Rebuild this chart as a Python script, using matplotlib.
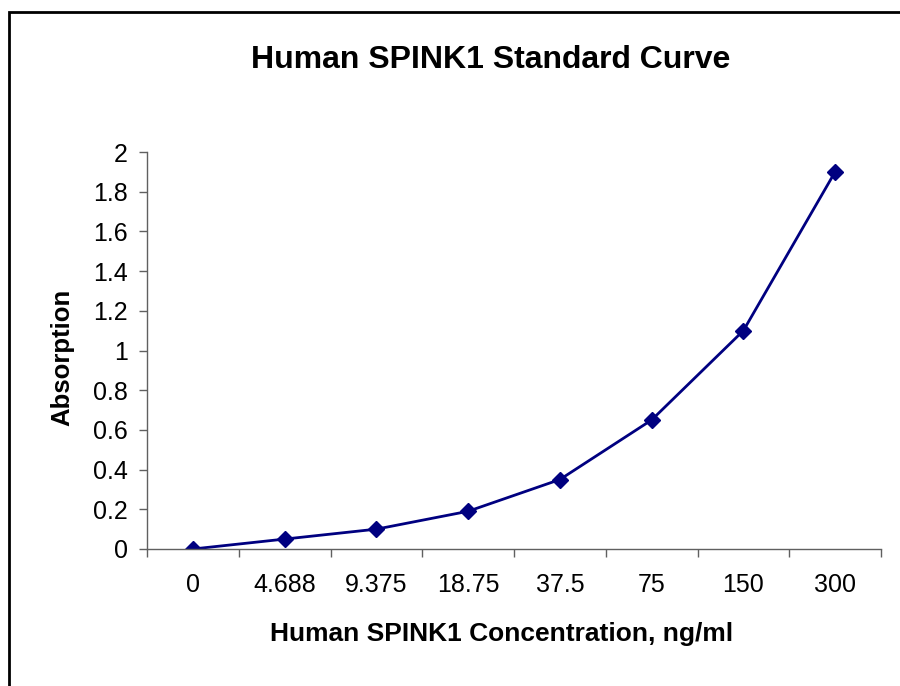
import matplotlib
matplotlib.use("Agg")
import matplotlib.pyplot as plt
from matplotlib.patches import Rectangle
import numpy as np

plt.rcParams['font.family'] = ['Liberation Sans', 'DejaVu Sans']

# 标准曲线数据
concentrations = ["0", "4.688", "9.375", "18.75", "37.5", "75", "150", "300"]
absorption = [0, 0.05, 0.1, 0.19, 0.35, 0.65, 1.1, 1.9]
y_ticks = [0, 0.2, 0.4, 0.6, 0.8, 1, 1.2, 1.4, 1.6, 1.8, 2]
y_tick_labels = ["0", "0.2", "0.4", "0.6", "0.8", "1", "1.2", "1.4", "1.6", "1.8", "2"]

fig = plt.figure(figsize=(9, 6.86), dpi=100)
ax = fig.add_axes([147 / 900, 137 / 686, 734 / 900, 397 / 686])

x = np.arange(len(concentrations))
ax.plot(x, absorption, color='#000080', lw=2, marker='D', ms=8, mfc='#000080', mec='#000080')

ax.set_xlim(-0.5, len(concentrations) - 0.5)
ax.set_ylim(0, 2)

# x轴: 标签在类别中心, 刻度线在类别边界
ax.set_xticks(x)
ax.set_xticklabels(concentrations, fontsize=18)
ax.set_xticks(np.arange(len(concentrations) + 1) - 0.5, minor=True)
ax.tick_params(axis='x', which='major', length=0, pad=17)
ax.tick_params(axis='x', which='minor', length=6, width=1, color='#606060', direction='out')

ax.set_yticks(y_ticks)
ax.set_yticklabels(y_tick_labels, fontsize=18)
ax.tick_params(axis='y', length=6, width=1, color='#606060', direction='out', pad=8)

for s in ['top', 'right']:
    ax.spines[s].set_visible(False)
for s in ['left', 'bottom']:
    ax.spines[s].set_color('#606060')
    ax.spines[s].set_linewidth(1)

fig.text(491 / 900, 1 - 60 / 686, "Human SPINK1 Standard Curve", fontsize=23,
         fontweight='bold', ha='center', va='center')
fig.text(502 / 900, 1 - 634 / 686, "Human SPINK1 Concentration, ng/ml", fontsize=19,
         fontweight='bold', ha='center', va='center')
fig.text(62 / 900, 1 - 357 / 686, "Absorption", fontsize=18.5, fontweight='bold',
         rotation=90, ha='center', va='center')

# 外边框 (只看到左边和上边)
fig.patches.append(Rectangle((9 / 900, -0.1), 1.0, 1 - 12 / 686 + 0.1, transform=fig.transFigure,
                             fill=False, edgecolor='black', lw=2, figure=fig))

fig.savefig("out.png", dpi=100)
